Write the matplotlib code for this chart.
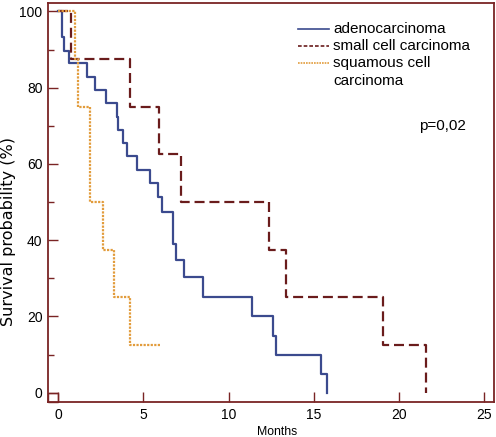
import matplotlib
matplotlib.use("Agg")
import matplotlib.pyplot as plt
from matplotlib.patches import Rectangle

# ---- data ----
adeno_t = [0.25, 0.37, 0.64, 1.72, 2.19, 2.83, 3.44, 3.50, 3.83, 4.06, 4.61, 5.39,
           5.84, 6.11, 6.76, 6.92, 7.39, 8.48, 11.39, 12.62, 12.78, 15.40, 15.75]
adeno_s = [93.2, 89.7, 86.4, 82.9, 79.4, 75.9, 72.4, 68.9, 65.5, 62.1, 58.4, 54.9,
           51.2, 47.5, 39.1, 34.8, 30.4, 25.0, 20.0, 15.0, 10.0, 5.0, 0.0]

small_t = [0.76, 4.22, 5.94, 7.21, 12.39, 13.35, 19.03, 21.60]
small_s = [87.5, 75.0, 62.5, 50.0, 37.5, 25.0, 12.5, 0.0]

squam_t = [1.00, 1.19, 1.90, 2.62, 3.28, 4.22]
squam_s = [87.5, 75.0, 50.0, 37.5, 25.0, 12.5]
squam_end = 6.04

labels = ["adenocarcinoma", "small cell carcinoma", "squamous cell", "carcinoma"]
x_ticks = [0, 5, 10, 15, 20, 25]
y_ticks = [0, 20, 40, 60, 80, 100]
y_minor = [10, 30, 50, 70, 90]
p_text = "p=0,02"

# ---- style ----
blue = "#3b4a8e"
maroon = "#6a1c1c"
orange = "#e29c3c"
spine_c = "#7a2424"
font = "Liberation Sans"

fig = plt.figure(figsize=(4.96, 4.37), dpi=100)
ax = fig.add_axes([48/496, 35/437, 446/496, 399/437])

xmin, xmax = -0.586, 25.56
ymin, ymax = -2.44, 102.2


def km(t, s, end=None):
    xs = [0.0] + list(t)
    ys = [100.0] + list(s)
    if end is not None:
        xs.append(end)
        ys.append(ys[-1])
    return xs, ys


x, y = km(adeno_t, adeno_s)
ax.step(x, y, where="post", color=blue, lw=1.6)
x, y = km(small_t, small_s)
ax.step(x, y, where="post", color=maroon, lw=1.6, linestyle=(0, (4.5, 2.2)))
x, y = km(squam_t, squam_s, squam_end)
ax.step(x, y, where="post", color=orange, lw=1.6, linestyle=(0, (1.0, 0.6)))

ax.set_xlim(xmin, xmax)
ax.set_ylim(ymin, ymax)
ax.set_xticks(x_ticks)
ax.set_yticks(y_ticks)
ax.set_yticks(y_minor, minor=True)
ax.tick_params(axis="both", which="major", direction="in", length=7, width=1,
               color=spine_c, labelsize=10, pad=4)
ax.tick_params(axis="y", which="minor", direction="in", length=4, width=1, color=spine_c)
for lab in ax.get_xticklabels() + ax.get_yticklabels():
    lab.set_fontfamily(font)
for sp in ax.spines.values():
    sp.set_color(spine_c)
    sp.set_linewidth(1.3)

ax.add_patch(Rectangle((xmin, ymin), -xmin, -ymin, fill=False, edgecolor=spine_c,
                       lw=1.0, clip_on=False))

# legend (manual)
def axfx(px):
    return (px - 48) / 446


def axfy(py):
    return (402 - py) / 399


rows = [29, 46, 63]
styles = [dict(color=blue, linestyle="-"),
          dict(color=maroon, linestyle=(0, (2.2, 1.2))),
          dict(color=orange, linestyle=(0, (1.0, 0.6)))]
for r, st in zip(rows, styles):
    ax.plot([axfx(298), axfx(329)], [axfy(r), axfy(r)], transform=ax.transAxes,
            lw=1.2, clip_on=False, **st)
for r, lab in zip([29, 46, 63, 81], labels):
    ax.text(axfx(333), axfy(r), lab, transform=ax.transAxes, fontsize=11,
            family=font, va="center", ha="left")

ax.text(axfx(419), axfy(126), p_text, transform=ax.transAxes, fontsize=11,
        family=font, va="center", ha="left")

fig.text(277/496, 1 - 432/437, "Months", fontsize=8.8, family=font,
         ha="center", va="center")
fig.text(9/496, 1 - 231/437, "Survival probability (%)", fontsize=11.5,
         family="DejaVu Sans", rotation=90, ha="center", va="center")

fig.savefig("out.png", dpi=100)
